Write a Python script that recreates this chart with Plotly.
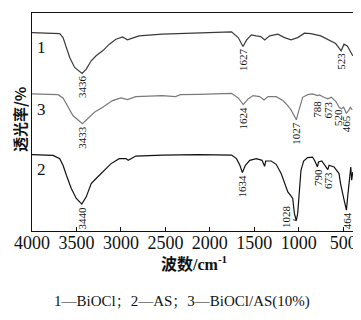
import numpy as np
import plotly.graph_objects as go

# ---- data (wavenumber / cm^-1, transmittance, offset units) ----
wn1 = [4000, 3720, 3688, 3651, 3613, 3576, 3521, 3436, 3390, 3334, 3279, 3205, 3130, 3056, 2982,
       2926, 2871, 2796, 2536, 2127, 1756, 1681, 1627, 1588, 1533, 1477, 1428, 1383, 1327, 1235,
       1160, 1087, 1012, 937, 864, 752, 640, 585, 523, 491, 454, 410, 393]
t1 = [199.3, 199, 198.3, 194.3, 184.3, 174.3, 164.3, 158.3, 162.7, 171, 176, 181, 187.7, 192.7, 195,
      192, 193.7, 196, 197.7, 199, 200, 194.3, 185.3, 191.7, 197, 196, 195.3, 192, 196, 197.7,
      194.3, 192, 194.3, 198.7, 198.3, 196, 191, 188.3, 181, 187.7, 186, 177.7, 176]

wn3 = [4000, 3707, 3651, 3595, 3540, 3433, 3372, 3298, 3205, 3094, 3000, 2926, 2833, 2536, 2387,
       2331, 2127, 1756, 1681, 1624, 1570, 1514, 1439, 1391, 1346, 1254, 1179, 1123, 1087, 1060,
       1027, 1010, 985, 956, 900, 845, 788, 770, 715, 673, 633, 585, 545, 520, 495, 465, 440, 420, 398]
t3 = [137.7, 137, 133.7, 124.3, 116, 107.7, 112.7, 119.3, 124.3, 131, 133.7, 132, 135, 136, 135,
      137, 137.3, 138.3, 133.7, 127, 132.7, 136, 135, 131.7, 135, 135, 131, 126, 121.7, 117.7,
      111.7, 117.7, 126, 134.3, 137, 137.7, 136, 136.7, 134.3, 132.7, 134.3, 130.3, 124.3, 122.7,
      124.3, 118.3, 121, 124.3, 121.7]

wn2 = [4000, 3763, 3688, 3651, 3613, 3558, 3502, 3440, 3390, 3334, 3279, 3205, 3111, 3019, 2944,
       2918, 2833, 2536, 2127, 1756, 1700, 1662, 1634, 1600, 1551, 1477, 1413, 1384, 1372, 1310,
       1254, 1198, 1154, 1123, 1094, 1068, 1049, 1028, 1012, 993, 975, 945, 900, 845, 819,
       790, 778, 741, 707, 673, 659, 603, 547, 530, 490, 464, 450, 430, 415, 405, 392]
t2 = [76.7, 76, 72.7, 66, 56, 42.7, 32.7, 27, 34.3, 47.7, 52.7, 59.3, 67.7, 72.7, 72.7,
      71, 75.3, 76.3, 76.7, 76.3, 72.7, 66, 58.7, 66, 71, 72.7, 71, 65, 70.3, 70.3,
      67, 57.7, 47.7, 39.3, 36, 32.7, 17.7, 10.3, 17.7, 41, 61, 70.3, 73.7, 74.3, 70.3,
      64.3, 69.3, 70.3, 66, 61.7, 66, 64.3, 57.7, 47.7, 31, 21, 34.3, 54.3, 64.3, 51, 59.3]

curve_names = ["1", "3", "2"]
peaks1 = ["3436", "1627", "523"]
peaks3 = ["3433", "1624", "1027", "788", "673", "520", "465"]
peaks2 = ["3440", "1634", "1028", "790", "673", "464"]

x_ticks = [4000, 3500, 3000, 2500, 2000, 1500, 1000, 500]
caption = "1—BiOCl；2—AS；3—BiOCl/AS(10%)"

# ---- figure (page body has an 8px default margin; compensate) ----
W, H = 353, 312
L, R, T, B = 24, 5, 4, 89
series = [(wn1, t1, "#3a3a3a", peaks1), (wn3, t3, "#7a7a7a", peaks3), (wn2, t2, "#111111", peaks2)]

fig = go.Figure()
for wn, t, col, _ in series:
    fig.add_trace(go.Scatter(x=wn, y=t, mode="lines", line=dict(color=col, width=1.2),
                             hoverinfo="skip", showlegend=False))

lab_font = dict(family="Liberation Serif, Times New Roman, serif", size=11, color="#111")
# per-label pixel adjustments (style only)
adjust = {("3", "520"): (-4, -2), ("3", "788"): (0, 3)}
leader = {("2", "1028"): (-11, -4)}   # label drawn with a short leader line
annotations = []
for name, (wn, t, col, peaks) in zip(curve_names, series):
    xs = np.array(wn[::-1], dtype=float)
    ys = np.array(t[::-1], dtype=float)
    for p in peaks:
        pv = float(p)
        yv = float(np.interp(pv, xs, ys))
        if (name, p) in leader:
            ax, ay = leader[(name, p)]
            annotations.append(dict(x=pv, y=yv, xref="x", yref="y", text=p, showarrow=True,
                                    arrowhead=0, arrowwidth=0.8, arrowcolor="#111", ax=ax, ay=ay,
                                    standoff=0, textangle=-90, font=lab_font))
            continue
        dx, dy = adjust.get((name, p), (0, 0))
        off = 2 + len(p) * 2.9
        annotations.append(dict(x=pv, y=yv - off - dy, xref="x", yref="y", text=p, showarrow=False,
                                textangle=-90, xanchor="center", yanchor="middle",
                                xshift=dx, font=lab_font))
    annotations.append(dict(x=3890, y=t[1], xref="x", yref="y", text=name, showarrow=False,
                            xanchor="center", yanchor="top", yshift=-3,
                            font=dict(family="Liberation Serif, serif", size=17, color="#111")))

annotations.append(dict(x=-0.037, y=0.51, xref="paper", yref="paper", text="<b>透光率/%</b>",
                        textangle=-90, showarrow=False, xanchor="center", yanchor="middle",
                        borderpad=0,
                        font=dict(family="Noto Sans CJK SC", size=15, color="#111")))
annotations.append(dict(x=0.506, y=-0.146, xref="paper", yref="paper",
                        text="<b>波数/cm<sup>-1</sup></b>", showarrow=False,
                        xanchor="center", yanchor="middle",
                        font=dict(family="Liberation Serif, Noto Sans CJK SC", size=16, color="#111")))
annotations.append(dict(x=0.466, y=-0.324, xref="paper", yref="paper", text=caption,
                        showarrow=False, xanchor="center", yanchor="middle",
                        font=dict(family="Liberation Serif, Noto Serif CJK SC, serif", size=15,
                                  color="#111")))

fig.update_layout(
    width=W, height=H, margin=dict(l=L, r=R, t=T, b=B),
    paper_bgcolor="white", plot_bgcolor="white",
    annotations=annotations,
    xaxis=dict(range=[4000, 390], tickvals=x_ticks, ticktext=[str(v) for v in x_ticks],
               ticks="inside", ticklen=4, tickcolor="#111", showgrid=False, zeroline=False,
               showline=True, linecolor="#111", linewidth=1, mirror=True, ticklabelstandoff=-5,
               tickfont=dict(family="Liberation Serif, serif", size=18, color="#111")),
    yaxis=dict(range=[0, 219], showticklabels=False, ticks="", showgrid=False, zeroline=False,
               showline=True, linecolor="#111", linewidth=1, mirror=True),
)

fig.write_html("out.html")
